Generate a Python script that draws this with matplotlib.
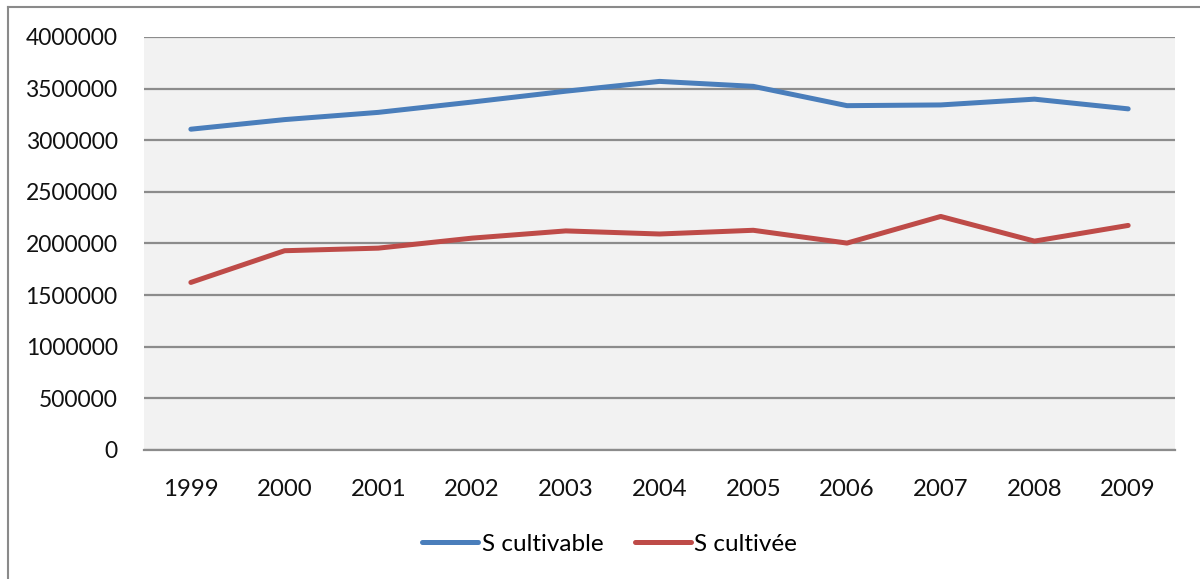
import matplotlib
matplotlib.use("Agg")
import matplotlib.pyplot as plt
from matplotlib.lines import Line2D

# Surface data per year
years = ["1999", "2000", "2001", "2002", "2003", "2004",
         "2005", "2006", "2007", "2008", "2009"]
s_cultivable = [3107000, 3200000, 3270000, 3370000, 3475000, 3570000,
                3522000, 3335000, 3342000, 3398000, 3304000]
s_cultivee = [1623000, 1930000, 1955000, 2052000, 2122000, 2092000,
              2128000, 2004000, 2262000, 2023000, 2175000]
y_ticks = [0, 500000, 1000000, 1500000, 2000000, 2500000,
           3000000, 3500000, 4000000]
series_names = ["S cultivable", "S cultivée"]

BLUE = "#4A7EBB"
RED = "#BE4B48"
GRID = "#8C8C8C"
FONT = "Lato"

fig = plt.figure(figsize=(12, 5.79), dpi=100)
ax = fig.add_axes([0.12, 0.2228, 0.8592, 0.7133])
ax.set_facecolor("#F2F2F2")

x = list(range(len(years)))
ax.plot(x, s_cultivable, color=BLUE, lw=3.6, solid_capstyle="round",
        solid_joinstyle="round", zorder=3)
ax.plot(x, s_cultivee, color=RED, lw=3.6, solid_capstyle="round",
        solid_joinstyle="round", zorder=3)

ax.set_xlim(-0.5, len(years) - 0.5)
ax.set_ylim(0, 4000000)
ax.set_yticks(y_ticks)
ax.set_yticklabels([str(v) for v in y_ticks], fontsize=16.5, family=FONT,
                   color="#111111")
ax.set_xticks(x)
ax.set_xticklabels(years, fontsize=17.3, family=FONT, color="#111111")
ax.tick_params(axis="both", length=0)
ax.tick_params(axis="y", pad=19)
ax.tick_params(axis="x", pad=21)

ax.yaxis.grid(True, color=GRID, lw=1.6)
ax.set_axisbelow(True)
for side in ["top", "right", "left"]:
    ax.spines[side].set_visible(False)
ax.spines["bottom"].set_color(GRID)
ax.spines["bottom"].set_linewidth(1.6)

# Outer frame (left and top edges)
fig.add_artist(Line2D([7.5 / 1200, 7.5 / 1200], [0, 1 - 7 / 579],
                      transform=fig.transFigure, color="#8A8A8A", lw=1.5))
fig.add_artist(Line2D([7.5 / 1200, 1], [1 - 7 / 579, 1 - 7 / 579],
                      transform=fig.transFigure, color="#8A8A8A", lw=1.5))

handles = [Line2D([], [], color=BLUE, lw=3.6, solid_capstyle="round"),
           Line2D([], [], color=RED, lw=3.6, solid_capstyle="round")]
fig.legend(handles, series_names, loc="center",
           bbox_to_anchor=(0.508, 1 - 544 / 579),
           ncol=2, frameon=False, prop={"family": FONT, "size": 17.5},
           handlelength=2.3, handletextpad=0.15, columnspacing=1.3)

fig.savefig("out.png", dpi=100)
